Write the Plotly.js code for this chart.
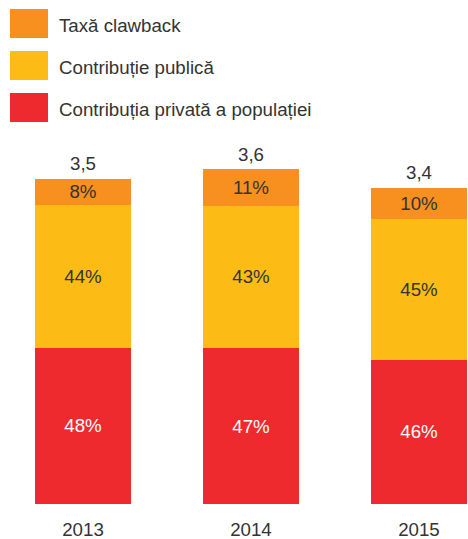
<!DOCTYPE html>
<html>
<head>
<meta charset="utf-8">
<script src="https://cdn.plot.ly/plotly-3.0.1.min.js"></script>
<style>
html,body{margin:0;padding:0;background:#fff;}
#chart{width:468px;height:539px;}
</style>
</head>
<body>
<div id="chart"></div>
<script>
// ---- data ----
const years = ['2013', '2014', '2015'];
const totals = [3.5, 3.6, 3.4];
const privataPct = [48, 47, 46];
const publicaPct = [44, 43, 45];
const clawbackPct = [8, 11, 10];
const seriesNames = ['Taxă clawback', 'Contribuție publică', 'Contribuția privată a populației'];
const colors = {clawback: '#F7901E', publica: '#FCBC15', privata: '#EE2A2F'};

// ---- derived segment values (share of each year's total) ----
const sums = years.map((_, i) => privataPct[i] + publicaPct[i] + clawbackPct[i]);
const seg = arr => arr.map((p, i) => totals[i] * p / sums[i]);

const W = 468, H = 539;
const mt = 140, mb = 35;
const plotH = H - mt - mb;
const FONT = 'Liberation Sans, Arial, Helvetica, sans-serif';
const fs = 18.7;

function bar(name, pct, color, txtColor) {
  return {
    type: 'bar', name: name, x: years, y: seg(pct),
    text: pct.map(v => v + '%'), textposition: 'inside', insidetextanchor: 'middle',
    constraintext: 'none', textangle: 0,
    textfont: {family: FONT, size: fs, color: txtColor},
    marker: {color: color, line: {width: 0}},
    width: 0.571, hoverinfo: 'skip', showlegend: false
  };
}

const traces = [
  bar(seriesNames[2], privataPct, colors.privata, '#ffffff'),
  bar(seriesNames[1], publicaPct, colors.publica, '#333333'),
  bar(seriesNames[0], clawbackPct, colors.clawback, '#333333')
];

// pixel -> paper helpers (margins l=r=0)
const px = x => x / W;
const py = y => (H - mb - y) / plotH;

const legendItems = [
  {name: seriesNames[0], color: colors.clawback, top: 9},
  {name: seriesNames[1], color: colors.publica, top: 51},
  {name: seriesNames[2], color: colors.privata, top: 93}
];
const shapes = legendItems.map(it => ({
  type: 'rect', xref: 'paper', yref: 'paper',
  x0: px(10), x1: px(48), y0: py(it.top + 29), y1: py(it.top),
  fillcolor: it.color, line: {width: 0}
}));
const annotations = legendItems.map(it => ({
  xref: 'paper', yref: 'paper', x: px(57), y: py(it.top + 16),
  xanchor: 'left', yanchor: 'middle', showarrow: false, text: it.name,
  font: {family: FONT, size: fs, color: '#333333'}
}));
years.forEach((yr, i) => {
  annotations.push({
    x: i, y: totals[i], xref: 'x', yref: 'y', yanchor: 'middle', yshift: 15,
    showarrow: false, text: totals[i].toFixed(1).replace('.', ','),
    font: {family: FONT, size: fs, color: '#333333'}
  });
});

const layout = {
  width: W, height: H,
  margin: {l: 0, r: 0, t: mt, b: mb, pad: 0},
  paper_bgcolor: '#ffffff', plot_bgcolor: '#ffffff',
  barmode: 'stack', bargap: 0,
  showlegend: false,
  font: {family: FONT, size: fs, color: '#333333'},
  xaxis: {
    type: 'category', range: [-0.494, 2.292], showgrid: false, zeroline: false,
    showline: false, ticks: '', ticklabelstandoff: 12,
    tickfont: {family: FONT, size: fs, color: '#333333'}, fixedrange: true
  },
  yaxis: {
    range: [0, plotH / 93], showgrid: false, zeroline: false, showline: false,
    showticklabels: false, ticks: '', fixedrange: true
  },
  shapes: shapes,
  annotations: annotations
};

Plotly.newPlot('chart', traces, layout, {displayModeBar: false, staticPlot: true});
</script>
</body>
</html>
